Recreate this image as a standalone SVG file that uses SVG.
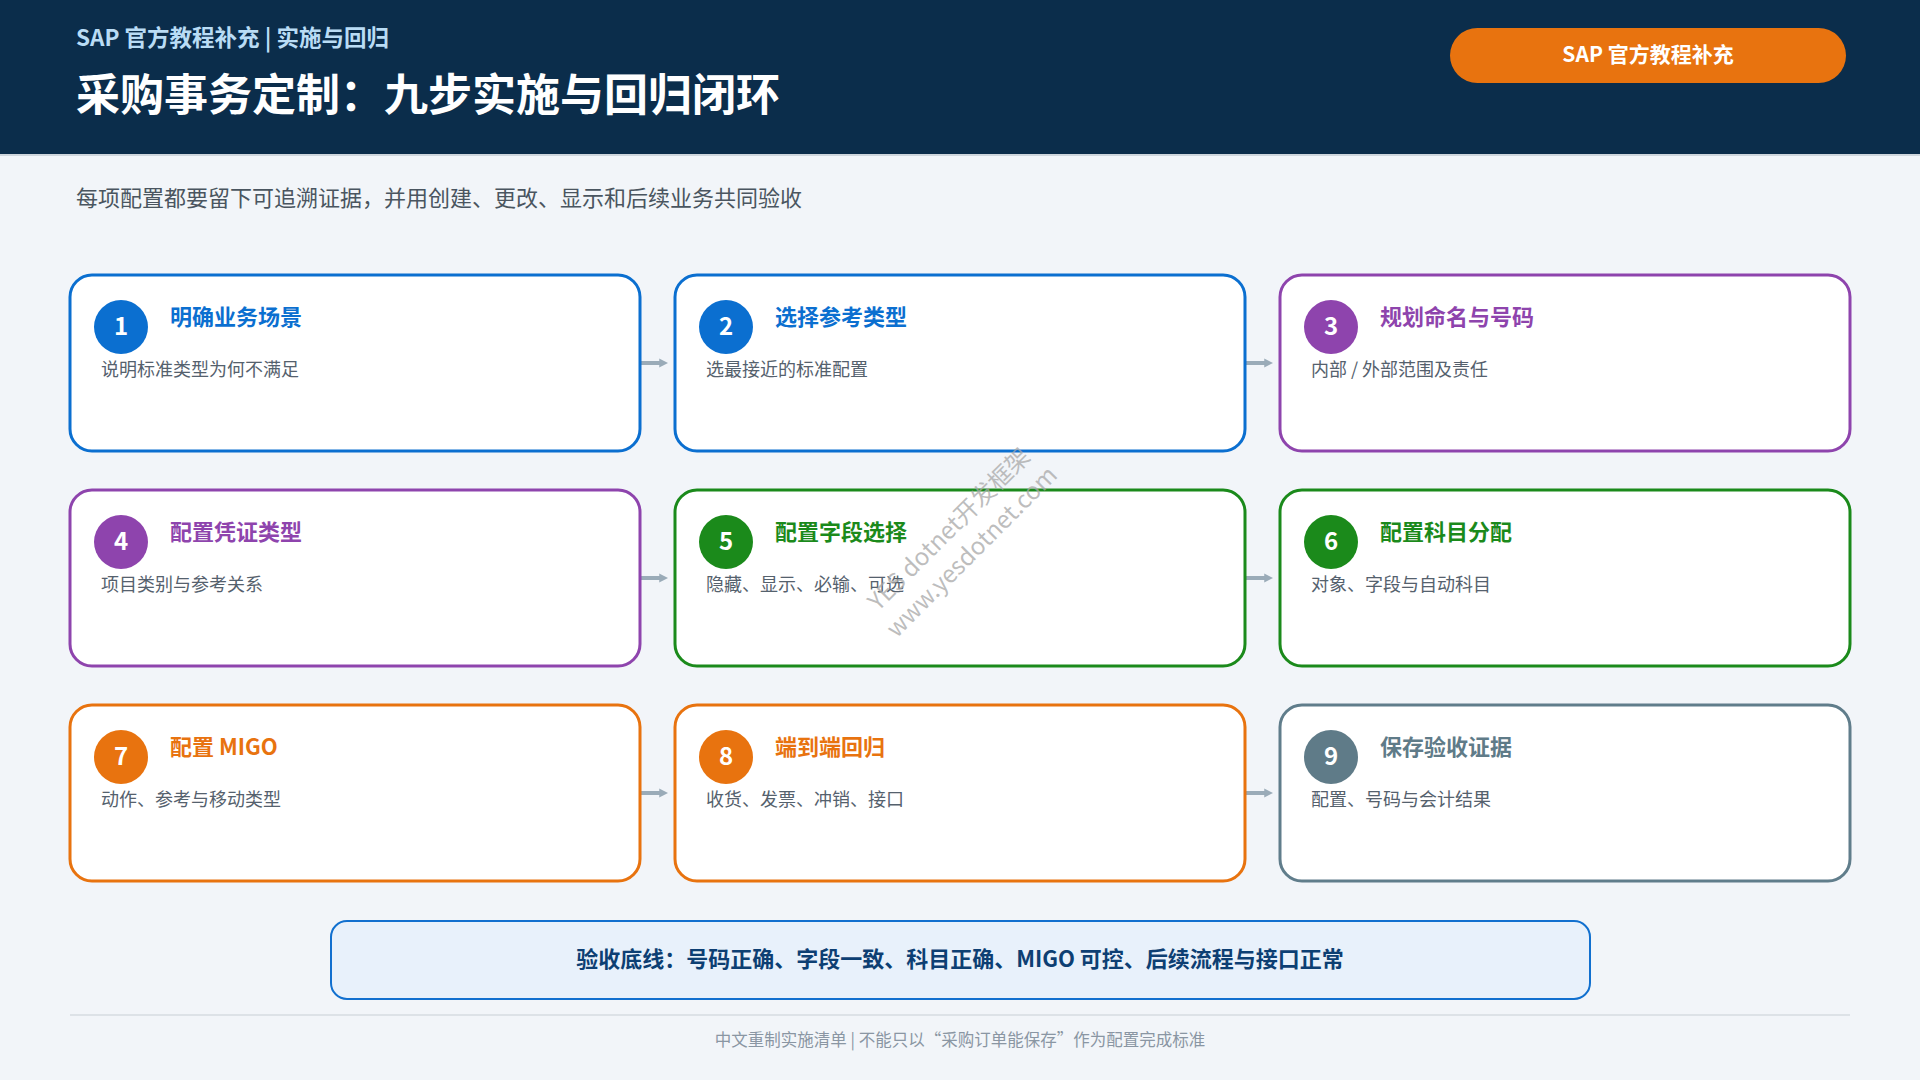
<svg xmlns="http://www.w3.org/2000/svg" width="1920" height="1080" viewBox="0 0 1920 1080">
<defs>
<style>
text{font-family:"Noto Sans CJK SC","Noto Sans",sans-serif;}
.card{fill:#ffffff;stroke-width:3;}
.num{fill:#ffffff;font-size:24px;font-weight:700;text-anchor:middle;}
.ttl{font-size:22px;font-weight:700;}
.dsc{font-size:18px;fill:#55616d;}
.blue{stroke:#0b6fd0;} .bluef{fill:#0b6fd0;}
.pur{stroke:#8e44ad;} .purf{fill:#8e44ad;}
.grn{stroke:#1b8a1b;} .grnf{fill:#1b8a1b;}
.org{stroke:#e8730f;} .orgf{fill:#e8730f;}
.sla{stroke:#607d8b;} .slaf{fill:#5f7b88;}
.conn{stroke:#9aabb8;stroke-width:4;fill:none;}
</style>
<marker id="ah" viewBox="0 0 10 10" refX="2" refY="5" markerWidth="2.2" markerHeight="2.6" orient="auto" markerUnits="strokeWidth">
<path d="M0,0 L10,5 L0,10 z" fill="#9aabb8"/>
</marker>
</defs>
<rect x="0" y="0" width="1920" height="1080" fill="#f2f5f9"/>
<g id="header">
<rect x="0" y="0" width="1920" height="154" fill="#0b2d4b"/>
<rect x="0" y="154" width="1920" height="2" fill="#cfd6dd"/>
<text x="76" y="46" font-size="22.5" font-weight="700" fill="#b9dcf5">SAP 官方教程补充 | 实施与回归</text>
<text x="76" y="111" font-size="44" font-weight="700" fill="#ffffff">采购事务定制：九步实施与回归闭环</text>
<rect x="1450" y="28" width="396" height="55" rx="27.5" fill="#e8730f"/>
<text x="1648" y="62" font-size="21" font-weight="700" fill="#ffffff" text-anchor="middle">SAP 官方教程补充</text>
</g>
<text x="76" y="206" font-size="22" fill="#4a5560">每项配置都要留下可追溯证据，并用创建、更改、显示和后续业务共同验收</text>

<g id="connectors">
<line class="conn" x1="641" y1="363" x2="661" y2="363" marker-end="url(#ah)"/>
<line class="conn" x1="1246" y1="363" x2="1266" y2="363" marker-end="url(#ah)"/>
<line class="conn" x1="641" y1="578" x2="661" y2="578" marker-end="url(#ah)"/>
<line class="conn" x1="1246" y1="578" x2="1266" y2="578" marker-end="url(#ah)"/>
<line class="conn" x1="641" y1="793" x2="661" y2="793" marker-end="url(#ah)"/>
<line class="conn" x1="1246" y1="793" x2="1266" y2="793" marker-end="url(#ah)"/>
</g>

<g id="step1">
<rect class="card blue" x="70" y="275" width="570" height="176" rx="22"/>
<circle class="bluef" cx="121" cy="327" r="27"/>
<text class="num" x="121" y="335">1</text>
<text class="ttl bluef" x="170" y="325">明确业务场景</text>
<text class="dsc" x="101" y="376">说明标准类型为何不满足</text>
</g>
<g id="step2">
<rect class="card blue" x="675" y="275" width="570" height="176" rx="22"/>
<circle class="bluef" cx="726" cy="327" r="27"/>
<text class="num" x="726" y="335">2</text>
<text class="ttl bluef" x="775" y="325">选择参考类型</text>
<text class="dsc" x="706" y="376">选最接近的标准配置</text>
</g>
<g id="step3">
<rect class="card pur" x="1280" y="275" width="570" height="176" rx="22"/>
<circle class="purf" cx="1331" cy="327" r="27"/>
<text class="num" x="1331" y="335">3</text>
<text class="ttl purf" x="1380" y="325">规划命名与号码</text>
<text class="dsc" x="1311" y="376">内部 / 外部范围及责任</text>
</g>

<g id="step4">
<rect class="card pur" x="70" y="490" width="570" height="176" rx="22"/>
<circle class="purf" cx="121" cy="542" r="27"/>
<text class="num" x="121" y="550">4</text>
<text class="ttl purf" x="170" y="540">配置凭证类型</text>
<text class="dsc" x="101" y="591">项目类别与参考关系</text>
</g>
<g id="step5">
<rect class="card grn" x="675" y="490" width="570" height="176" rx="22"/>
<circle class="grnf" cx="726" cy="542" r="27"/>
<text class="num" x="726" y="550">5</text>
<text class="ttl grnf" x="775" y="540">配置字段选择</text>
<text class="dsc" x="706" y="591">隐藏、显示、必输、可选</text>
</g>
<g id="step6">
<rect class="card grn" x="1280" y="490" width="570" height="176" rx="22"/>
<circle class="grnf" cx="1331" cy="542" r="27"/>
<text class="num" x="1331" y="550">6</text>
<text class="ttl grnf" x="1380" y="540">配置科目分配</text>
<text class="dsc" x="1311" y="591">对象、字段与自动科目</text>
</g>

<g id="step7">
<rect class="card org" x="70" y="705" width="570" height="176" rx="22"/>
<circle class="orgf" cx="121" cy="757" r="27"/>
<text class="num" x="121" y="765">7</text>
<text class="ttl orgf" x="170" y="755">配置 MIGO</text>
<text class="dsc" x="101" y="806">动作、参考与移动类型</text>
</g>
<g id="step8">
<rect class="card org" x="675" y="705" width="570" height="176" rx="22"/>
<circle class="orgf" cx="726" cy="757" r="27"/>
<text class="num" x="726" y="765">8</text>
<text class="ttl orgf" x="775" y="755">端到端回归</text>
<text class="dsc" x="706" y="806">收货、发票、冲销、接口</text>
</g>
<g id="step9">
<rect class="card sla" x="1280" y="705" width="570" height="176" rx="22"/>
<circle class="slaf" cx="1331" cy="757" r="27"/>
<text class="num" x="1331" y="765">9</text>
<text class="ttl slaf" x="1380" y="755">保存验收证据</text>
<text class="dsc" x="1311" y="806">配置、号码与会计结果</text>
</g>

<g id="baseline">
<rect x="331" y="921" width="1259" height="78" rx="16" fill="#e8f1fb" stroke="#1170cf" stroke-width="2"/>
<text x="960" y="967" font-size="22" font-weight="700" fill="#0d3f73" text-anchor="middle">验收底线：号码正确、字段一致、科目正确、MIGO 可控、后续流程与接口正常</text>
</g>
<rect x="70" y="1014" width="1780" height="2" fill="#dde2e7"/>
<text x="960" y="1046" font-size="16.5" fill="#8a96a3" text-anchor="middle">中文重制实施清单 | 不能只以“采购订单能保存”作为配置完成标准</text>

<g id="watermark" transform="translate(955,535) rotate(-45)" fill="#a8a8a8" fill-opacity="0.75" font-size="24" text-anchor="middle">
<text x="0" y="0">YES dotnet开发框架</text>
<text x="0" y="32">www.yesdotnet.com</text>
</g>
</svg>
